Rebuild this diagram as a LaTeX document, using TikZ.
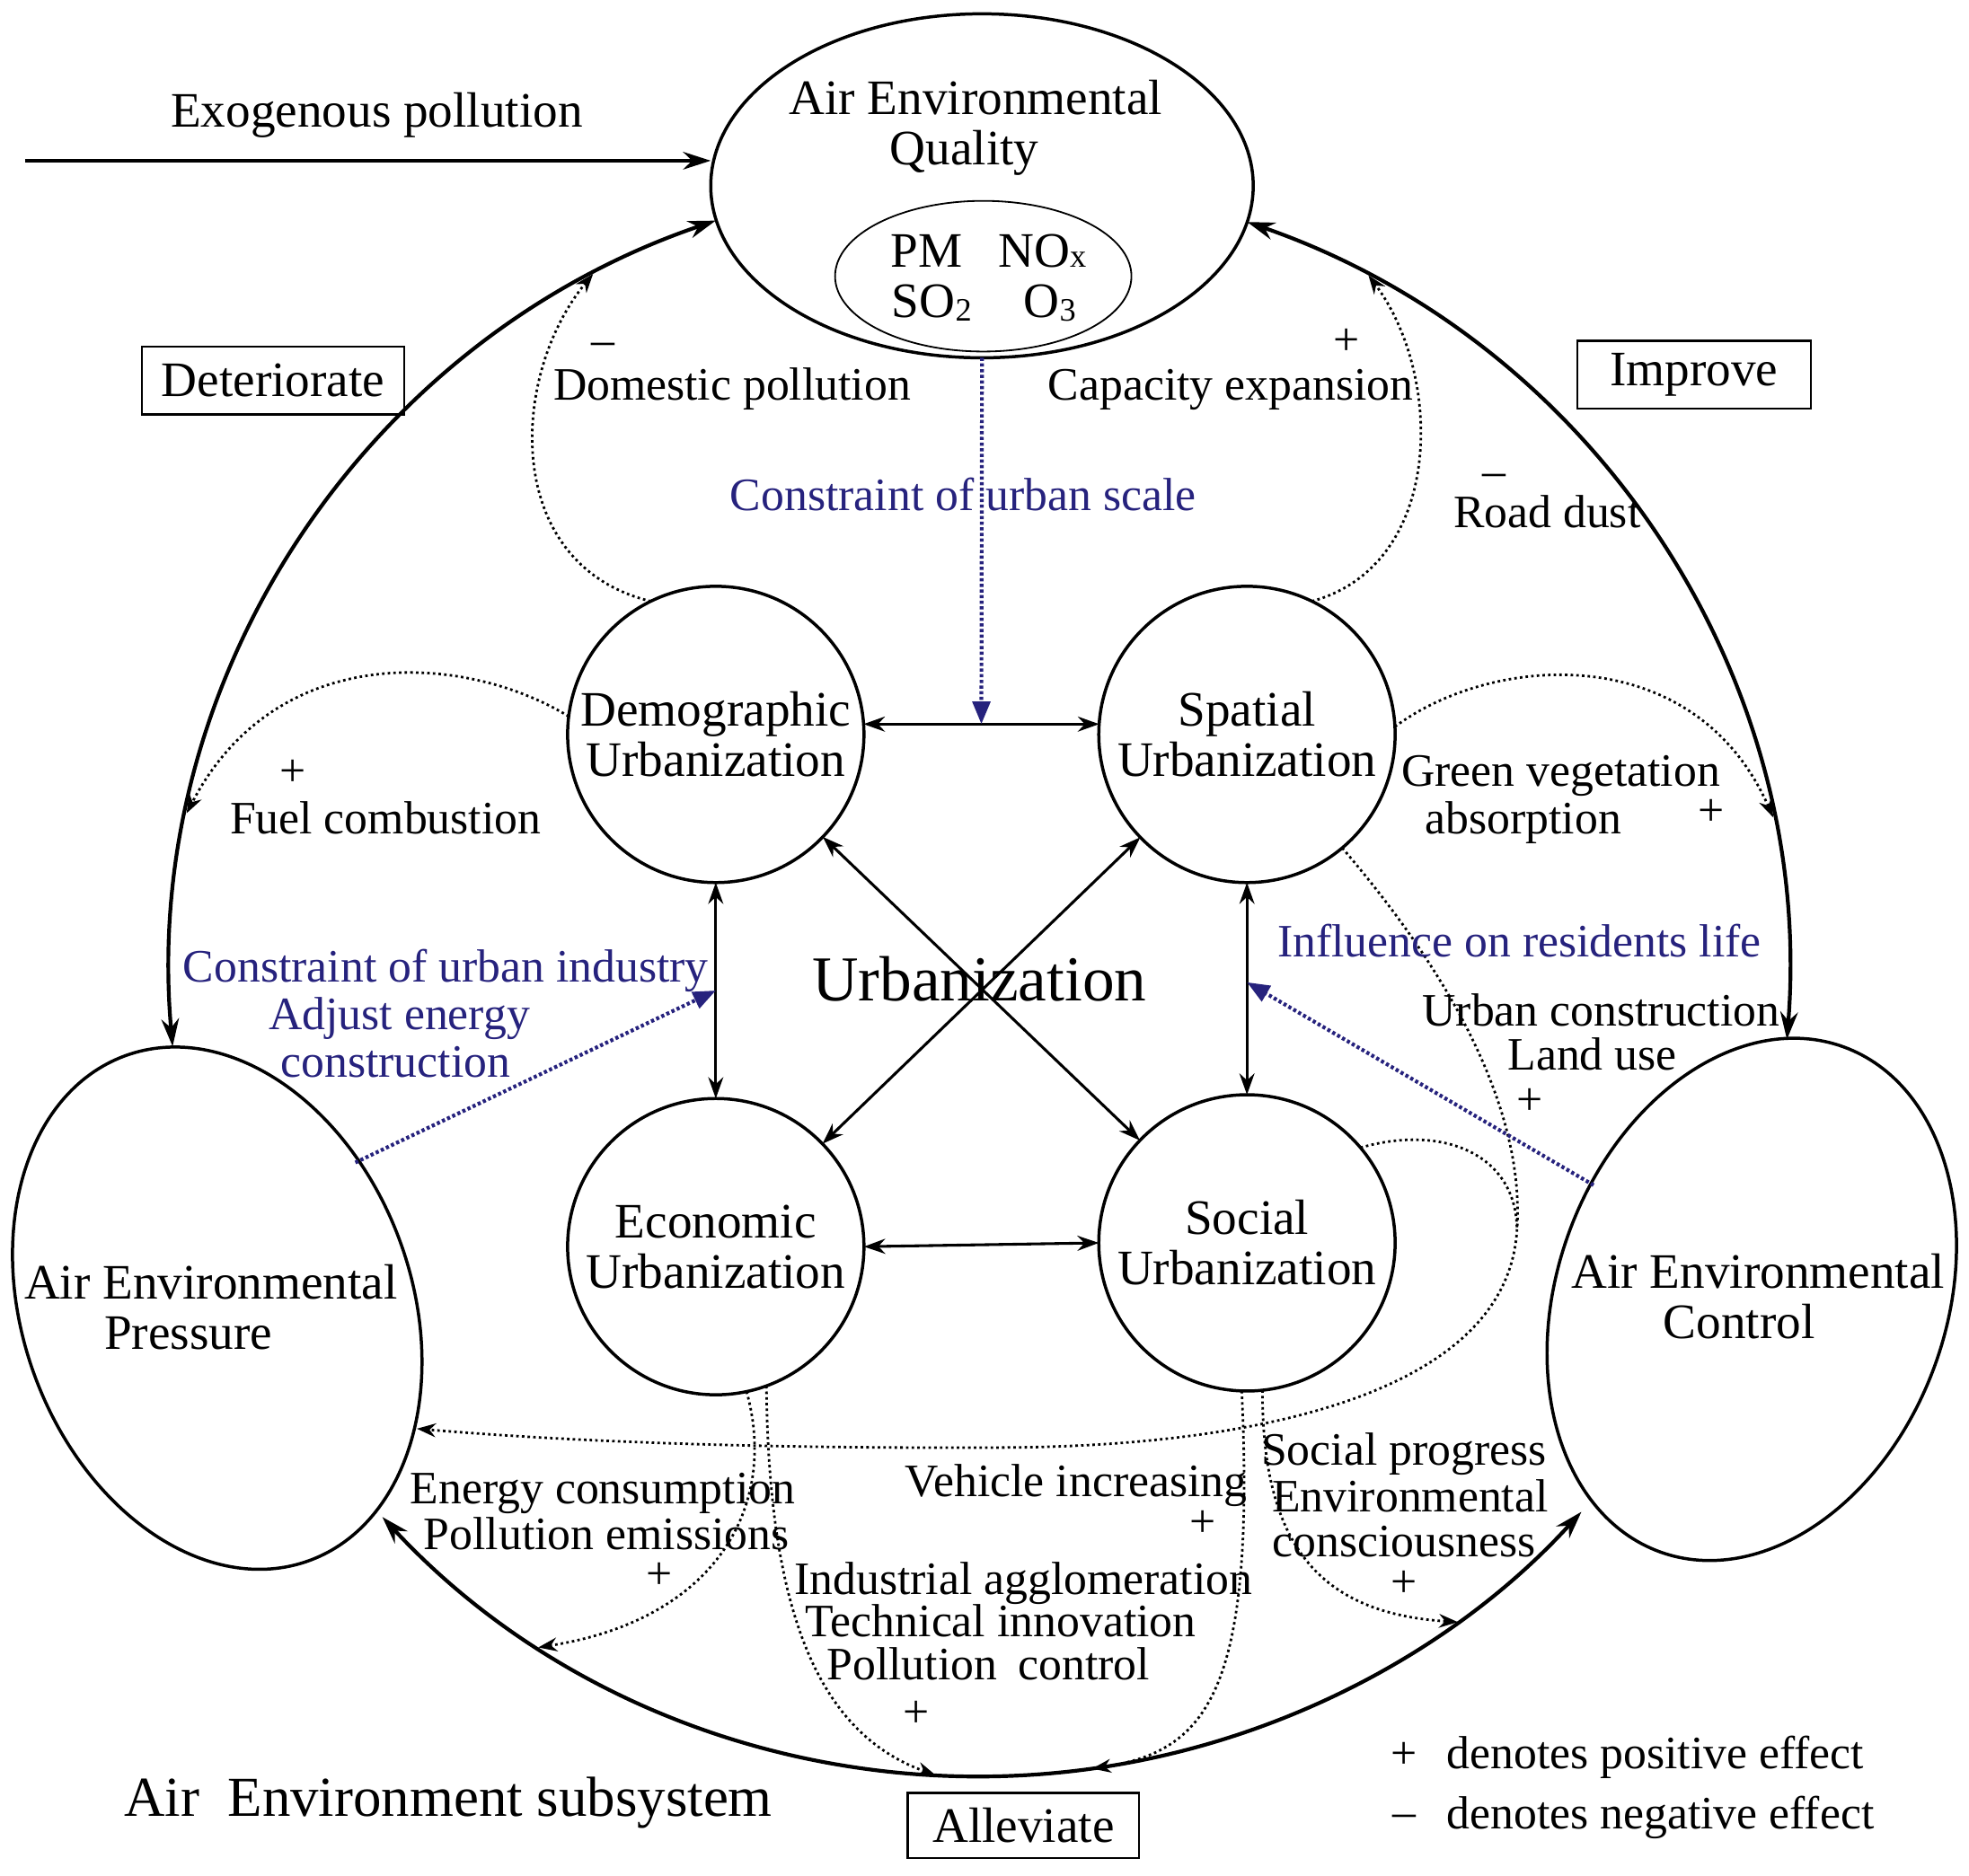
\documentclass[tikz,border=0pt]{standalone}
\usepackage{fontspec}
\setmainfont{Liberation Serif}
\usetikzlibrary{arrows.meta,shapes.geometric,calc}
\definecolor{blueink}{RGB}{38,34,125}
\newcommand\FntMain{\fontsize{39.5}{40}\selectfont}
\newcommand\FntLbl{\fontsize{37}{38}\selectfont}
\newcommand\FntBig{\fontsize{51}{52}\selectfont}
\newcommand\FntSys{\fontsize{45}{46}\selectfont}
\newcommand\FntSub{\fontsize{26}{26}\selectfont}
\begin{document}
\begin{tikzpicture}[x=1pt,y=-1pt,
  every node/.style={inner sep=0pt, outer sep=0pt},
  urb/.style={draw, circle, minimum size=236pt, line width=2.5pt, align=center, font=\FntMain},
  env/.style={draw, ellipse, line width=2.5pt},
  lbl/.style={font=\FntLbl, anchor=base, yshift=-12pt},
  mlbl/.style={font=\FntMain, anchor=base, yshift=-13pt},
  blbl/.style={lbl, text=blueink},
  boxed/.style={draw, line width=1.8pt, font=\FntMain, minimum height=54pt},
  bigarc/.style={line width=3pt, {Stealth[length=22pt,width=14pt]}-{Stealth[length=22pt,width=14pt]}},
  link/.style={line width=2.2pt, {Stealth[length=17pt,width=12pt]}-{Stealth[length=17pt,width=12pt]}},
  infl/.style={line width=2pt, dash pattern=on 2pt off 2.5pt, -{Stealth[length=15pt,width=11pt]}},
  infln/.style={line width=2pt, dash pattern=on 2pt off 2.5pt},
  cons/.style={line width=3pt, blueink, dash pattern=on 2.5pt off 2pt, -{Triangle[length=18pt,width=14pt]}}
]
\useasboundingbox (0,0) rectangle (1568,1494);

% ---------- main shapes ----------
\node[env, minimum width=432pt, minimum height=274pt] (Q) at (782,148) {};
\node[draw, ellipse, line width=1.3pt, minimum width=236pt, minimum height=120pt] (G) at (783,220) {};
\node[env, minimum width=310pt, minimum height=428pt, rotate=20] (P) at (173,1042) {};
\node[env, minimum width=310pt, minimum height=428pt, rotate=-20] (K) at (1395,1035) {};

\node[urb] (Dem) at (570,585) {Demographic\\Urbanization};
\node[urb] (Spa) at (993,585) {Spatial\\Urbanization};
\node[urb] (Eco) at (570,993) {Economic\\Urbanization};
\node[urb] (Soc) at (993,990) {Social\\Urbanization};

% ---------- texts of shapes ----------
\node[mlbl] (tQ1) at (777,78) {Air Environmental};
\node[mlbl] (tQ2) at (768,118) {Quality};
\node[mlbl] (tG1) at (738,200) {PM};
\node[mlbl] (tG2) at (830,200) {NO{\FntSub x}};
\node[mlbl] (tG3) at (742,240) {SO\raisebox{-3pt}{\FntSub 2}};
\node[mlbl] (tG4) at (836,240) {O\raisebox{-3pt}{\FntSub 3}};
\node[mlbl] (tP1) at (168,1022) {Air Environmental};
\node[mlbl] (tP2) at (150,1062) {Pressure};
\node[mlbl] (tK1) at (1400,1013) {Air Environmental};
\node[mlbl] (tK2) at (1385,1053) {Control};
\node[font=\FntBig, anchor=base, yshift=-17pt] (tU) at (780,780) {Urbanization};

\node[boxed, minimum width=209pt] (bD) at (217.5,303) {Deteriorate};
\node[boxed, minimum width=186pt] (bI) at (1349,298.5) {Improve};
\node[boxed, minimum width=184pt, minimum height=52pt] (bA) at (815,1454) {Alleviate};

% ---------- exogenous ----------
\node[mlbl] (tExo) at (300,88) {Exogenous pollution};
\coordinate (ex) at (20,128);
\draw[line width=3pt, -{Stealth[length=22pt,width=14pt]}] (ex) -- (ex -| Q.west);

% ---------- big ring ----------
\coordinate (C) at (780,778);
\coordinate (aL) at ($(C)+(175:645 and 637)$);
\coordinate (aR) at ($(C)+(289.3:645 and 637)$);
\coordinate (aB) at ($(C)+(137.5:645 and 637)$);
\draw[bigarc] (aL) arc[start angle=175, end angle=251, x radius=645, y radius=637];
\draw[bigarc] (aR) arc[start angle=289.3, end angle=364.5, x radius=645, y radius=637];
\draw[bigarc] (aB) arc[start angle=137.5, end angle=42, x radius=645, y radius=637];

% ends of influence arrows on the ring
\coordinate (eDom) at ($(C)+(241.5:645 and 637)$);
\coordinate (eCap) at ($(C)+(298.7:645 and 637)$);
\coordinate (eFuel) at ($(C)+(191.8:645 and 637)$);
\coordinate (eGreen) at ($(C)+(348.5:645 and 637)$);
\coordinate (eEn) at ($(C)+(123:645 and 637)$);
\coordinate (eInd) at ($(C)+(93.1:645 and 637)$);
\coordinate (eVeh) at ($(C)+(82:645 and 637)$);
\coordinate (eSoc) at ($(C)+(53.8:645 and 637)$);

% ---------- urbanization links ----------
\draw[link] (Dem.4) -- (Spa.176);
\draw[link] (Eco.east) -- (Soc.west);
\draw[link] (Dem.south) -- (Eco.north);
\draw[link] (Spa.south) -- (Soc.north);
\draw[link] (Dem) -- (Soc);
\draw[link] (Spa) -- (Eco);

% ---------- dotted influence curves ----------
\draw[infl] (Dem.116) .. controls (400,450) and (405,300) .. (eDom);
\draw[infl] (Spa.64) .. controls (1150,450) and (1150,300) .. (eCap);
\draw[infl] (Dem.173) .. controls (370,520) and (220,510) .. (eFuel);
\draw[infl] (Spa.3) .. controls (1190,520) and (1350,510) .. (eGreen);
\coordinate (m) at (1208,980);
\coordinate (pEnd) at (332,1138);
\draw[infl] (Spa.-50) .. controls (1150,770) and (1215,880) .. (m)
   .. controls (1200,1110) and (1000,1152) .. (800,1153)
   .. controls (600,1154) and (450,1148) .. (pEnd);
\draw[infln] (Soc.40) .. controls (1150,895) and (1208,920) .. (m);
\draw[infl] (Eco.-78) .. controls (620,1200) and (570,1290) .. (eEn);
\draw[infl] (Eco.-70) .. controls (612,1280) and (650,1380) .. (eInd);
\draw[infl] (Soc.-92) .. controls (1000,1350) and (960,1395) .. (eVeh);
\draw[infl] (Soc.-84) .. controls (1005,1230) and (1050,1285) .. (eSoc);

% ---------- blue constraint arrows ----------
\coordinate (tDS) at ($(Dem.4)!0.5!(Spa.176)$);
\coordinate (tDE) at ($(Dem.south)!0.5!(Eco.north)$);
\coordinate (tSS) at ($(Spa.south)!0.47!(Soc.north)$);
\coordinate (pB) at (283,926);
\coordinate (kB) at (1269,944);
\draw[cons] (Q.south) -- (tDS);
\draw[cons] (pB) -- (tDE);
\draw[cons] (kB) -- (tSS);

% ---------- labels ----------
\node[lbl] (s1) at (480,271) {–};
\node[lbl] (l1) at (583,307) {Domestic pollution};
\node[lbl] (s2) at (1072,271) {+};
\node[lbl] (l2) at (980,307) {Capacity expansion};
\node[lbl] (s3) at (1190,375) {–};
\node[lbl] (l3) at (1232,408) {Road dust};
\node[blbl] (c1) at (767,395) {Constraint of urban scale};
\node[lbl] (s4) at (233,614) {+};
\node[lbl] (l4) at (307,652) {Fuel combustion};
\node[lbl] (l5a) at (1243,614) {Green vegetation};
\node[lbl] (l5b) at (1213,652) {absorption};
\node[lbl] (s5) at (1363,646) {+};
\node[blbl] (c2a) at (355,770) {Constraint of urban industry};
\node[blbl] (c2b) at (318,808) {Adjust energy};
\node[blbl] (c2c) at (315,846) {construction};
\node[blbl] (c3) at (1210,750) {Influence on residents life};
\node[lbl] (l6a) at (1275,805) {Urban construction};
\node[lbl] (l6b) at (1268,840) {Land use};
\node[lbl] (s6) at (1218,876) {+};
\node[lbl] (l7a) at (480,1186) {Energy consumption};
\node[lbl] (l7b) at (483,1222) {Pollution emissions};
\node[lbl] (s7) at (525,1254) {+};
\node[lbl] (l8) at (857,1180) {Vehicle increasing};
\node[lbl] (s8) at (958,1212) {+};
\node[lbl] (l9a) at (1118,1155) {Social progress};
\node[lbl] (l9b) at (1123,1192) {Environmental};
\node[lbl] (l9c) at (1118,1228) {consciousness};
\node[lbl] (s9) at (1118,1260) {+};
\node[lbl] (l10a) at (815,1258) {Industrial agglomeration};
\node[lbl] (l10b) at (797,1292) {Technical innovation};
\node[lbl] (l10c) at (787,1326) {Pollution\hspace{0.45em}control};
\node[lbl] (s10) at (730,1364) {+};
\node[font=\FntSys, anchor=base, yshift=-15pt] (tSys) at (357,1432) {Air\hspace{0.5em}Environment subsystem};

\node[lbl] (lgP) at (1118,1397) {+};
\node[lbl, anchor=base west] (lgPt) at (1152,1397) {denotes positive effect};
\node[lbl] (lgN) at (1118,1443) {–};
\node[lbl, anchor=base west] (lgNt) at (1152,1445) {denotes negative effect};
\end{tikzpicture}
\end{document}
